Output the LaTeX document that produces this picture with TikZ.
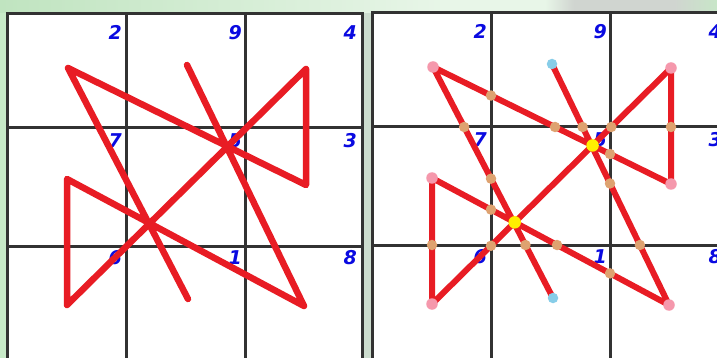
\documentclass[tikz,border=0pt]{standalone}
\usepackage{fontspec}
\usepackage{xcolor}
\usepackage{tikz}
\usetikzlibrary{calc}
\newfontfamily\digitfont{DejaVu Sans}
\definecolor{gridgray}{RGB}{50,50,50}
\definecolor{pathred}{RGB}{232,28,36}
\definecolor{digitblue}{RGB}{10,10,225}
\definecolor{crosstan}{RGB}{222,162,112}
\definecolor{endpink}{RGB}{245,152,172}
\definecolor{endcyan}{RGB}{135,205,232}
\definecolor{hubyellow}{RGB}{255,238,0}
\definecolor{sidegreen}{RGB}{200,234,200}
\definecolor{gapgreen}{RGB}{204,220,206}
\definecolor{bandA}{RGB}{192,228,192}
\definecolor{bandB}{RGB}{224,242,224}
\definecolor{bandC}{RGB}{232,246,232}
\definecolor{bandD}{RGB}{208,213,208}
\definecolor{bandE}{RGB}{200,230,200}
\pgfdeclarehorizontalshading{topband}{100bp}{color(0bp)=(bandA); color(25bp)=(bandA);
  color(50bp)=(bandB); color(56bp)=(bandC); color(63bp)=(bandC); color(65bp)=(bandD);
  color(72bp)=(bandD); color(75bp)=(bandE); color(100bp)=(bandE)}

\begin{document}
\begin{tikzpicture}[x=1pt, y=-1pt,
        gridline/.style={draw=gridgray, line width=3pt},
        digit/.style={anchor=north east, inner sep=0pt, text=digitblue,
                      font=\digitfont\bfseries\itshape\fontsize{19}{19}\selectfont},
        route/.style={draw=pathred, line width=6.5pt, line cap=round, line join=round},
        griddot/.style={circle, fill=crosstan, inner sep=0pt, minimum size=10.5pt},
        turndot/.style={circle, fill=endpink, inner sep=0pt, minimum size=11.5pt},
        enddot/.style={circle, fill=endcyan, inner sep=0pt, minimum size=10.5pt},
        hubdot/.style={circle, fill=hubyellow, inner sep=0pt, minimum size=12.5pt}
    ]
    \useasboundingbox (0,0) rectangle (717,358);
    \clip (0,0) rectangle (717,358);
    \fill[sidegreen] (0,0) rectangle (717,358);
    \shade[shading=topband] (0,0) rectangle (717,13);
    \fill[gapgreen] (362,13) rectangle (372,358);

    % plain square
    \begin{scope}[shift={(7,14)}]
    \fill[white] (0,0) rectangle (355,350);
    \draw[gridline] (0,0) rectangle (355,350);
    \draw[gridline] (119,0) -- (119,350);
    \draw[gridline] (238,0) -- (238,350);
    \draw[gridline] (0,114) -- (355,114);
    \draw[gridline] (0,232) -- (355,232);
    \node[digit] (ld2) at (115,11) {2};
    \node[digit] (ld9) at (235,11) {9};
    \node[digit] (ld4) at (350,11) {4};
    \node[digit] (ld7) at (115,119) {7};
    \node[digit] (ld5) at (235,119) {5};
    \node[digit] (ld3) at (350,119) {3};
    \node[digit] (ld6) at (115,236) {6};
    \node[digit] (ld1) at (235,236) {1};
    \node[digit] (ld8) at (350,236) {8};
    \coordinate (lp1) at (181,285);
    \coordinate (lp2) at (61,54);
    \coordinate (lp3) at (299,171);
    \coordinate (lp4) at (299,55);
    \coordinate (lp6) at (60,291);
    \coordinate (lp7) at (60,165);
    \coordinate (lp8) at (297,292);
    \coordinate (lp9) at (180,51);
    \draw[route] (lp1) -- (lp2) -- (lp3) -- (lp4) -- (lp6) -- (lp7) -- (lp8) -- (lp9);
    \end{scope}

    % marked square
    \begin{scope}[shift={(372,13)}]
    \fill[white] (0,0) rectangle (355,350);
    \draw[gridline] (0,0) rectangle (355,350);
    \coordinate (rv1t) at (119,0);
    \coordinate (rv1b) at (119,350);
    \coordinate (rv2t) at (238,0);
    \coordinate (rv2b) at (238,350);
    \coordinate (rh1l) at (0,114);
    \coordinate (rh1r) at (355,114);
    \coordinate (rh2l) at (0,232);
    \coordinate (rh2r) at (355,232);
    \draw[gridline] (rv1t) -- (rv1b);
    \draw[gridline] (rv2t) -- (rv2b);
    \draw[gridline] (rh1l) -- (rh1r);
    \draw[gridline] (rh2l) -- (rh2r);
    \node[digit] (rd2) at (115,11) {2};
    \node[digit] (rd9) at (235,11) {9};
    \node[digit] (rd4) at (350,11) {4};
    \node[digit] (rd7) at (115,119) {7};
    \node[digit] (rd5) at (235,119) {5};
    \node[digit] (rd3) at (350,119) {3};
    \node[digit] (rd6) at (115,236) {6};
    \node[digit] (rd1) at (235,236) {1};
    \node[digit] (rd8) at (350,236) {8};
    \coordinate (rp1) at (181,285);
    \coordinate (rp2) at (61,54);
    \coordinate (rp3) at (299,171);
    \coordinate (rp4) at (299,55);
    \coordinate (rp6) at (60,291);
    \coordinate (rp7) at (60,165);
    \coordinate (rp8) at (297,292);
    \coordinate (rp9) at (180,51);
    \draw[route, line width=6pt] (rp1) -- (rp2) -- (rp3) -- (rp4) -- (rp6) -- (rp7) -- (rp8) -- (rp9);
    % crossings with the grid
    \node[griddot] (x12a) at (intersection of rp1--rp2 and rv1t--rv1b) {};
    \node[griddot] (x12b) at (intersection of rp1--rp2 and rh1l--rh1r) {};
    \node[griddot] (x12c) at (intersection of rp1--rp2 and rh2l--rh2r) {};
    \node[griddot] (x23a) at (intersection of rp2--rp3 and rv1t--rv1b) {};
    \node[griddot] (x23b) at (intersection of rp2--rp3 and rv2t--rv2b) {};
    \node[griddot] (x23c) at (intersection of rp2--rp3 and rh1l--rh1r) {};
    \node[griddot] (x34)  at (intersection of rp3--rp4 and rh1l--rh1r) {};
    \node[griddot] (x46a) at (intersection of rp4--rp6 and rh1l--rh1r) {};
    \node[griddot] (x46b) at (intersection of rp4--rp6 and rv1t--rv1b) {};
    \node[griddot] (x67)  at (intersection of rp6--rp7 and rh2l--rh2r) {};
    \node[griddot] (x78a) at (intersection of rp7--rp8 and rv1t--rv1b) {};
    \node[griddot] (x78b) at (intersection of rp7--rp8 and rh2l--rh2r) {};
    \node[griddot] (x78c) at (intersection of rp7--rp8 and rv2t--rv2b) {};
    \node[griddot] (x89a) at (intersection of rp8--rp9 and rh2l--rh2r) {};
    \node[griddot] (x89b) at (intersection of rp8--rp9 and rv2t--rv2b) {};
    \node[griddot] (x89c) at (intersection of rp8--rp9 and rh1l--rh1r) {};
    % where the strokes meet
    \node[hubdot] (hubA) at (intersection of rp2--rp3 and rp4--rp6) {};
    \node[hubdot] (hubB) at (intersection of rp4--rp6 and rp7--rp8) {};
    % ends and turns
    \node[turndot] (t2) at (rp2) {};
    \node[turndot] (t3) at (rp3) {};
    \node[turndot] (t4) at (rp4) {};
    \node[turndot] (t6) at (rp6) {};
    \node[turndot] (t7) at (rp7) {};
    \node[turndot] (t8) at (rp8) {};
    \node[enddot] (e1) at (rp1) {};
    \node[enddot] (e9) at (rp9) {};
    \end{scope}
\end{tikzpicture}
\end{document}
